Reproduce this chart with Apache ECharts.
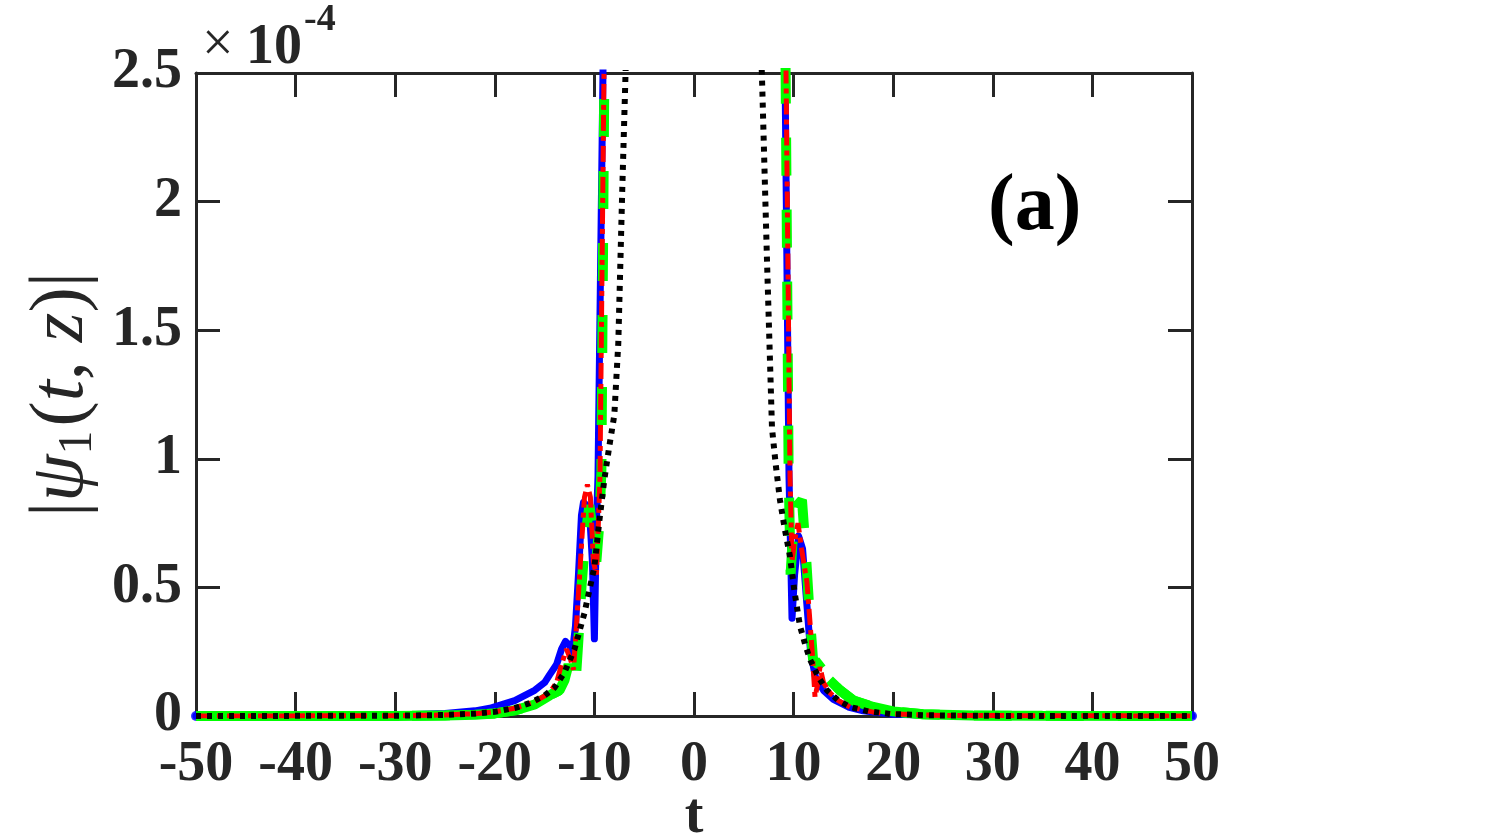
<!DOCTYPE html>
<html>
<head>
<meta charset="utf-8">
<title>psi1</title>
<script src="https://cdn.jsdelivr.net/npm/echarts@6/dist/echarts.min.js"></script>
<style>
  html, body { margin: 0; padding: 0; background: #fff; }
  #chart { width: 1511px; height: 836px; }
</style>
</head>
<body>
<div id="chart"></div>
<script>
// tick labels
var xTicks = [-50, -40, -30, -20, -10, 0, 10, 20, 30, 40, 50]
var yTicks = [0, 0.5, 1, 1.5, 2, 2.5] // x 1e-4

// blue solid curve
var blueT = [-50, -35, -28, -25, -22, -20.5, -18, -16, -15, -14.5, -13.8, -13.3, -12.9, -12.5, -12.2, -11.9, -11.6, -11.3, -11.1, -10.8, -10.5, -10.2, -10.0, -9.8, -9.64, -9.14, -8.5,
  8.5, 9.14, 9.54, 9.84, 10.1, 10.5, 10.9, 11.3, 11.7, 12.2, 13, 14, 15.5, 17, 20, 25, 35, 50]
var blueV = [0, 0.001, 0.006, 0.01, 0.02, 0.03, 0.06, 0.1, 0.13, 0.16, 0.2, 0.26, 0.29, 0.275, 0.25, 0.35, 0.55, 0.78, 0.83, 0.82, 0.8, 0.6, 0.3, 0.75, 0.93, 2.5, 4.5,
  4.6, 2.5, 0.93, 0.38, 0.55, 0.7, 0.65, 0.45, 0.25, 0.15, 0.1, 0.065, 0.035, 0.02, 0.007, 0.002, 0, 0]

// green dashed curve
var greenT = [-50, -30, -25, -22, -20, -18, -16, -14.5, -13.5, -13.0, -12.6, -12.2, -11.9, -11.6, -11.3, -10.9, -10.5, -10.1, -9.8, -9.5, -9.3, -9.0, -8.5,
  8.5, 9.2, 9.5, 9.7, 10.0, 10.4, 10.84, 11.2, 11.6, 11.95, 12.5, 13.15, 13.6, 14.66, 16, 18, 20, 23, 28, 35, 50]
var greenV = [0, 0, 0.002, 0.005, 0.01, 0.022, 0.045, 0.08, 0.1, 0.14, 0.2, 0.15, 0.12, 0.3, 0.5, 0.7, 0.82, 0.7, 0.6, 0.75, 0.95, 2.5, 4.3,
  4.3, 2.5, 0.95, 0.55, 0.75, 0.82, 0.84, 0.65, 0.4, 0.22, 0.2, 0.22, 0.14, 0.1, 0.06, 0.035, 0.018, 0.007, 0.002, 0.0005, 0]

// red dash-dot curve
var redT = [-50, -30, -25, -22, -20, -18, -16, -14.5, -13.8, -13.3, -12.8, -12.4, -12.1, -11.8, -11.4, -11.0, -10.7, -10.4, -10.1, -9.8, -9.6, -9.44, -9.04, -8.5,
  8.5, 9.24, 9.64, 9.84, 10.1, 10.44, 10.8, 11.34, 11.85, 12.15, 12.4, 12.65, 13.0, 13.65, 14.5, 15.66, 18, 20, 25, 50]
var redV = [0, 0.001, 0.004, 0.009, 0.016, 0.03, 0.055, 0.09, 0.13, 0.2, 0.26, 0.22, 0.18, 0.35, 0.6, 0.85, 0.9, 0.85, 0.6, 0.55, 0.75, 0.93, 2.5, 4.6,
  4.6, 2.5, 0.93, 0.6, 0.68, 0.75, 0.65, 0.52, 0.26, 0.074, 0.12, 0.19, 0.13, 0.09, 0.06, 0.035, 0.015, 0.008, 0.002, 0]

// black dotted curve
var blackT = [-50, -30, -25, -22, -20, -17.8, -16.5, -15, -14, -13, -12, -11, -10, -9.5, -9, -8.5, -8, -7.6, -7.2, -6.8, -6.5,
  6.5, 6.85, 7.33, 7.83, 8.2, 8.63, 9.1, 9.64, 10.1, 10.64, 11.15, 11.65, 12.5, 13.35, 14.5, 15.66, 17.5, 19.7, 23, 30, 50]
var blackV = [0, 0.001, 0.004, 0.009, 0.016, 0.033, 0.05, 0.08, 0.11, 0.17, 0.26, 0.4, 0.58, 0.76, 0.92, 1.05, 1.17, 1.45, 2.05, 2.6, 2.9,
  2.9, 2.45, 1.77, 1.12, 0.98, 0.84, 0.73, 0.62, 0.48, 0.35, 0.28, 0.22, 0.15, 0.1, 0.06, 0.035, 0.018, 0.008, 0.003, 0.0005, 0]

function pairs (ts, vs) {
  return ts.map(function (t, i) { return [t, vs[i]] })
}

// the noisy green tails look solid in the original, only the core is dashed
var greenAll = pairs(greenT, greenV)
var greenTailL = greenAll.filter(function (p) { return p[0] <= -13.5 })
var greenTailR = greenAll.filter(function (p) { return p[0] >= 13.6 })

var serif = "'Liberation Serif', 'Times New Roman', serif"
var axisColor = '#262626'

var chart = echarts.init(document.getElementById('chart'))

var axisCommon = {
  type: 'value',
  axisLine: { show: true, onZero: false, lineStyle: { color: axisColor, width: 3 } },
  axisTick: { show: true, inside: true, length: 24, lineStyle: { color: axisColor, width: 3 } },
  splitLine: { show: false }
}

var option = {
  animation: false,
  backgroundColor: '#fff',
  grid: { left: 196, right: 319, top: 73, bottom: 120, outerBoundsMode: 'none', containLabel: false },
  xAxis: [
    Object.assign({}, axisCommon, {
      min: xTicks[0], max: xTicks[xTicks.length - 1], interval: xTicks[1] - xTicks[0],
      position: 'bottom',
      name: 't',
      nameLocation: 'middle',
      nameMoveOverlap: false,
      nameGap: 74,
      nameTextStyle: { fontFamily: serif, fontWeight: 'bold', fontSize: 56, color: axisColor },
      axisLabel: { margin: 22, fontFamily: serif, fontWeight: 'bold', fontSize: 56, color: axisColor }
    }),
    Object.assign({}, axisCommon, {
      min: xTicks[0], max: xTicks[xTicks.length - 1], interval: xTicks[1] - xTicks[0],
      position: 'top',
      axisLabel: { show: false }
    })
  ],
  yAxis: [
    Object.assign({}, axisCommon, {
      min: yTicks[0], max: yTicks[yTicks.length - 1], interval: yTicks[1] - yTicks[0],
      position: 'left',
      name: '{b||}{n|ψ}{s|1}{b|(}{n|t}{b|, }{n|z}{b|)|}',
      nameLocation: 'middle',
      nameMoveOverlap: false,
      nameRotate: 90,
      nameGap: 94,
      nameTextStyle: {
        color: axisColor,
        rich: {
          b: { fontFamily: serif, fontSize: 76, color: axisColor },
          n: { fontFamily: serif, fontStyle: 'italic', fontSize: 76, color: axisColor },
          s: { fontFamily: serif, fontSize: 48, color: axisColor, padding: [32, 4, 0, 0] }
        }
      },
      axisLabel: { margin: 14, fontFamily: serif, fontWeight: 'bold', fontSize: 56, color: axisColor }
    }),
    Object.assign({}, axisCommon, {
      min: yTicks[0], max: yTicks[yTicks.length - 1], interval: yTicks[1] - yTicks[0],
      position: 'right',
      axisLabel: { show: false }
    })
  ],
  graphic: [
    { type: 'text', left: 202, top: 18, style: { text: '×', font: 'normal 56px ' + serif, fill: axisColor } },
    { type: 'text', left: 246, top: 21, style: { text: '10', font: 'bold 56px ' + serif, fill: axisColor } },
    { type: 'text', left: 304, top: 1, style: { text: '-4', font: 'bold 38px ' + serif, fill: axisColor } },
    { type: 'text', left: 988, top: 168, style: { text: '(a)', font: 'bold 80px ' + serif, fill: '#000' } }
  ],
  series: [
    {
      name: 'blue', type: 'line', data: pairs(blueT, blueV), showSymbol: false, z: 2,
      lineStyle: { color: '#0000ff', width: 7, cap: 'round', join: 'round' }
    },
    {
      name: 'blueEnds', type: 'scatter', z: 2, symbolSize: 10, itemStyle: { color: '#0000ff' },
      data: [[blueT[0], blueV[0]], [blueT[blueT.length - 1], blueV[blueV.length - 1]]]
    },
    {
      name: 'green', type: 'line', data: greenAll, showSymbol: false, z: 3,
      lineStyle: { color: '#00ff00', width: 10, type: [38, 34], cap: 'butt' }
    },
    {
      name: 'greenTailL', type: 'line', data: greenTailL, showSymbol: false, z: 3,
      lineStyle: { color: '#00ff00', width: 10 }
    },
    {
      name: 'greenTailR', type: 'line', data: greenTailR, showSymbol: false, z: 3,
      lineStyle: { color: '#00ff00', width: 10 }
    },
    {
      name: 'red', type: 'line', data: pairs(redT, redV), showSymbol: false, z: 4,
      lineStyle: { color: '#ff0000', width: 5, type: [16, 5, 5, 5], cap: 'butt' }
    },
    {
      name: 'black', type: 'line', data: pairs(blackT, blackV), showSymbol: false, z: 5,
      lineStyle: { color: '#000000', width: 6, type: [5, 6], cap: 'butt' }
    }
  ]
}

chart.setOption(option)
</script>
</body>
</html>
